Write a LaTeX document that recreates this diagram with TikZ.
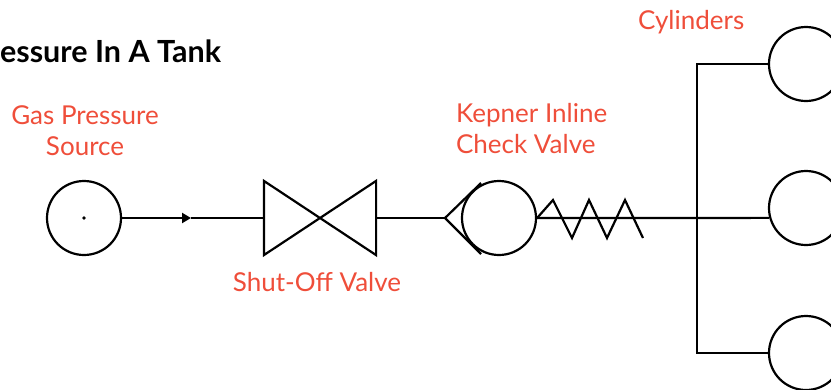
\documentclass[tikz,border=0pt]{standalone}
\usepackage{fontspec}
\setmainfont{Lato}
\usetikzlibrary{positioning,arrows.meta}
\definecolor{labelred}{RGB}{239,78,58}
\tikzset{every picture/.style={line width=2.2pt},
  comp/.style={draw, circle, minimum size=74pt, inner sep=0pt},
  tag/.style={text=labelred, font=\fontsize{26}{31}\selectfont, inner sep=0pt}}

\begin{document}
\begin{tikzpicture}[x=1pt,y=-1pt]
  \useasboundingbox (0,0) rectangle (831,389);
  \node[anchor=base west, inner sep=0pt, font=\bfseries\fontsize{30.5}{33}\selectfont] (title) at (-1,62) {essure In A Tank};
  % source and pipe
  \node[comp] (src) at (84,218) {};
  \fill (src.center) circle (1.8pt);
  \coordinate (flow) at (191,218);
  \draw[-{Triangle[length=9pt,width=10pt]}] (src.east) -- (flow);
  \node[minimum width=110pt, minimum height=72pt, inner sep=0pt] (shutoff) at (320,218) {};
  \draw (flow) -- (shutoff.west);
  \draw[line join=miter] (shutoff.north west) -- (shutoff.south west) -- (shutoff.north east) -- (shutoff.south east) -- cycle;
  % check valve
  \node[comp] (check) at (499,218) {};
  \coordinate (seat) at (445,218);
  \draw (shutoff.east) -- (seat);
  \draw (481,183) -- (seat) -- (481,254);
  \draw (check.east) -- (553,200) -- (572,238) -- (589,200) -- (607,238) -- (625,200) -- (643,238);
  % cylinders
  \node[comp] (cyla) at (806,64) {};
  \node[comp] (cylb) at (806,208) {};
  \node[comp] (cylc) at (806,353) {};
  \coordinate (jtop) at (697,64);
  \coordinate (jmid) at (697,218);
  \coordinate (jbot) at (697,353);
  \draw (check.east) -- (jmid) -- (cylb.195);
  \draw (cyla.west) -- (jtop) -- (jbot) -- (cylc.west);
  % labels
  \node[tag, align=center, anchor=north] (srclabel) at (85,105) {Gas Pressure\\Source};
  \node[tag, align=left, anchor=north west] (checklabel) at (455,102) {Kepner Inline\\Check Valve};
  \node[tag, anchor=base] (shutlabel) at (317,291) {Shut-Off Valve};
  \node[tag, anchor=base west] (cyllabel) at (637,29) {Cylinders};
\end{tikzpicture}
\end{document}
